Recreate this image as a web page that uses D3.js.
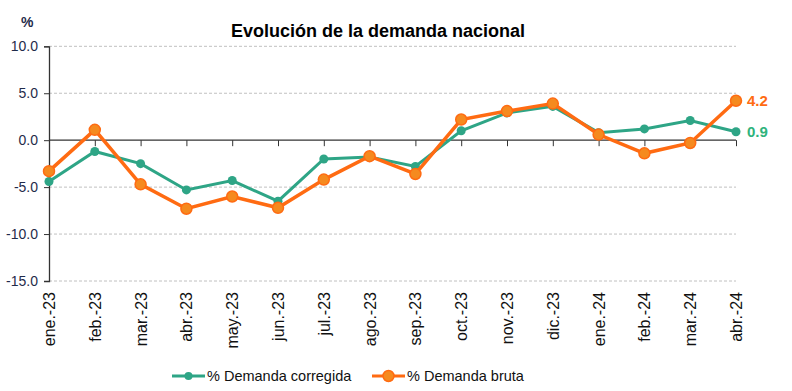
<!DOCTYPE html>
<html><head><meta charset="utf-8">
<script src="https://cdn.jsdelivr.net/npm/d3@7"></script>
<style>body{margin:0;background:#fff;}svg{display:block;font-family:"Liberation Sans",Arial,sans-serif;}</style>
</head><body><svg id="c" width="792" height="391"></svg>
<script>
const categories = ["ene.-23","feb.-23","mar.-23","abr.-23","may.-23","jun.-23","jul.-23","ago.-23","sep.-23","oct.-23","nov.-23","dic.-23","ene.-24","feb.-24","mar.-24","abr.-24"];
const corregida = [-4.4,-1.2,-2.5,-5.3,-4.3,-6.5,-2.0,-1.8,-2.8,1.0,2.9,3.6,0.8,1.2,2.1,0.9];
const bruta = [-3.3,1.1,-4.7,-7.3,-6.0,-7.2,-4.2,-1.7,-3.6,2.2,3.1,3.9,0.6,-1.4,-0.3,4.2];
const yTicks = [10,5,0,-5,-10,-15];
const seriesNames = ["% Demanda corregida","% Demanda bruta"];
const title = "Evolución de la demanda nacional";

const green = "#2ea586", orange = "#ff6b12", orangeFill = "#f58a1f";
const svg = d3.select("#c");
const x = d3.scalePoint().domain(categories).range([49, 736]);
const y = d3.scaleLinear().domain([-15, 10]).range([281, 46.3]);

// gridlines
svg.append("g").selectAll("line").data(yTicks.filter(d=>d!==0)).join("line")
  .attr("x1",49).attr("x2",736).attr("y1",d=>y(d)).attr("y2",d=>y(d))
  .attr("stroke","#c0c0c0").attr("stroke-width",1).attr("stroke-dasharray","3,2");

// y axis
const yAxis = svg.append("g").attr("transform","translate(49,0)")
  .call(d3.axisLeft(y).tickValues(yTicks).tickFormat(d3.format(".1f")).tickSize(5).tickPadding(6));
yAxis.select(".domain").attr("stroke","#333").attr("stroke-width",1.3);
yAxis.selectAll(".tick line").attr("stroke","#333");
yAxis.selectAll("text").attr("font-size","14px").attr("fill","#1f2b4a").attr("font-family","Liberation Sans, Arial, sans-serif")
  .text(d=> d<0 ? "-"+Math.abs(d).toFixed(1) : d.toFixed(1));

// x axis at zero
const xAxis = svg.append("g").attr("transform",`translate(0,${y(0)})`)
  .call(d3.axisBottom(x).tickSize(6).tickFormat(""));
xAxis.select(".domain").attr("stroke","#333").attr("stroke-width",1.3).attr("d",`M49,0H736`);
xAxis.selectAll(".tick line").attr("stroke","#333");

// x labels
svg.append("g").selectAll("text").data(categories).join("text")
  .attr("transform",d=>`translate(${x(d)+6},292) rotate(-90)`)
  .attr("text-anchor","end").attr("font-size","16px").attr("fill","#111")
  .text(d=>d);

// lines
const line = d3.line().x((d,i)=>x(categories[i])).y(d=>y(d));
svg.append("path").datum(corregida).attr("d",line).attr("fill","none").attr("stroke",green).attr("stroke-width",3);
svg.append("g").selectAll("circle").data(corregida).join("circle")
  .attr("cx",(d,i)=>x(categories[i])).attr("cy",d=>y(d)).attr("r",4.5).attr("fill",green);
svg.append("path").datum(bruta).attr("d",line).attr("fill","none").attr("stroke",orange).attr("stroke-width",3.5);
svg.append("g").selectAll("circle").data(bruta).join("circle")
  .attr("cx",(d,i)=>x(categories[i])).attr("cy",d=>y(d)).attr("r",5.5).attr("fill",orangeFill).attr("stroke",orange).attr("stroke-width",1.5);

// end labels
const last = categories.length-1;
svg.append("text").attr("x",x(categories[last])+11).attr("y",y(bruta[last])+5.5)
  .attr("font-size","15px").attr("font-weight","bold").attr("fill",orange).text(bruta[last].toFixed(1));
svg.append("text").attr("x",x(categories[last])+11).attr("y",y(corregida[last])+5.5)
  .attr("font-size","15px").attr("font-weight","bold").attr("fill","#2fb37c").text(corregida[last].toFixed(1));

// title
svg.append("text").attr("x",378).attr("y",37).attr("text-anchor","middle")
  .attr("font-size","18px").attr("font-weight","bold").attr("fill","#000").text(title);
svg.append("text").attr("x",21).attr("y",27).attr("font-size","14px").attr("font-weight","bold").attr("fill","#1f2b4a").text("%");

// legend
const leg = [{name:seriesNames[0],c:green,x:172,r:4,fill:green,sw:0},{name:seriesNames[1],c:orange,x:372,r:5.5,fill:orangeFill,sw:1.5}];
const lg = svg.append("g").selectAll("g").data(leg).join("g").attr("transform",d=>`translate(${d.x},376)`);
lg.append("line").attr("x1",0).attr("x2",33).attr("stroke",d=>d.c).attr("stroke-width",3);
lg.append("circle").attr("cx",16.5).attr("r",d=>d.r).attr("fill",d=>d.fill).attr("stroke",d=>d.c).attr("stroke-width",d=>d.sw);
lg.append("text").attr("x",35).attr("y",5).attr("font-size","14.5px").attr("fill","#111").text(d=>d.name);
</script></body></html>
